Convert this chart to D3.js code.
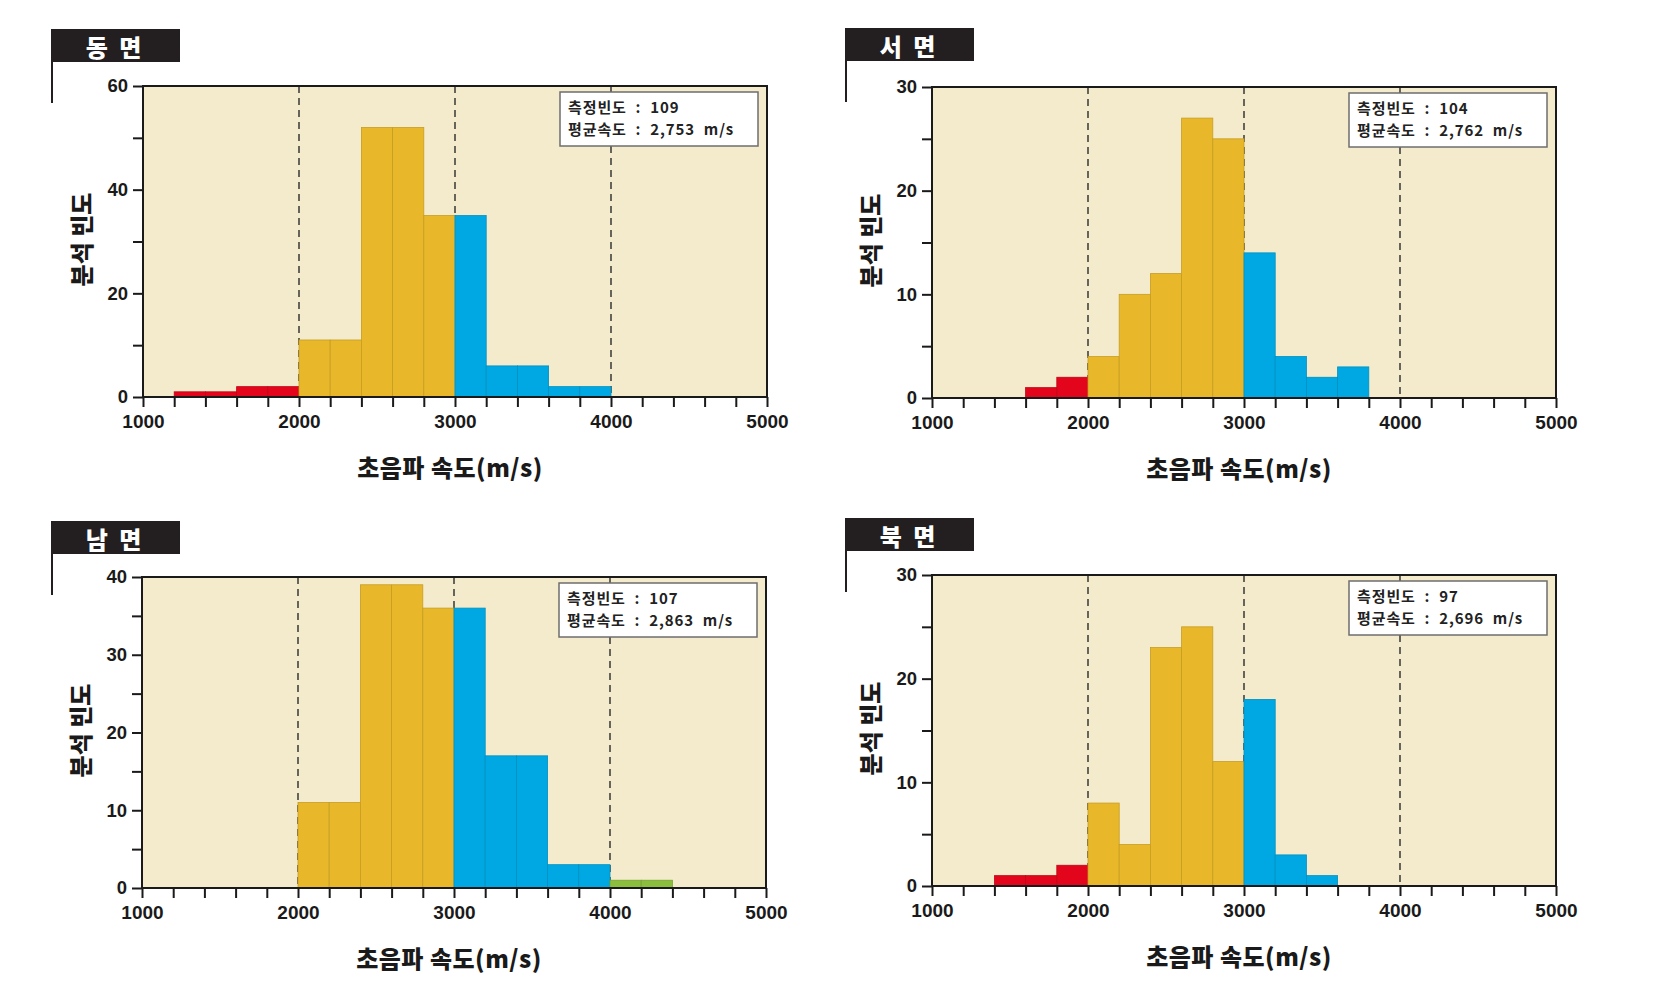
<!DOCTYPE html>
<html>
<head>
<meta charset="utf-8">
<script src="https://cdn.jsdelivr.net/npm/d3@7"></script>
<style>
  html, body { margin: 0; padding: 0; background: #ffffff; }
  svg { display: block; }
</style>
</head>
<body>
<svg id="chart" width="1666" height="982"></svg>
<script>
// ---------- DATA ----------
const binStarts = [1000, 1200, 1400, 1600, 1800, 2000, 2200, 2400, 2600, 2800,
                   3000, 3200, 3400, 3600, 3800, 4000, 4200, 4400, 4600, 4800];
const binWidth = 200;

const panelTitles = ["동 면", "서 면", "남 면", "북 면"];

const countsEast  = [0, 1, 1, 2, 2, 11, 11, 52, 52, 35, 35, 6, 6, 2, 2, 0, 0, 0, 0, 0];
const countsWest  = [0, 0, 0, 1, 2, 4, 10, 12, 27, 25, 14, 4, 2, 3, 0, 0, 0, 0, 0, 0];
const countsSouth = [0, 0, 0, 0, 0, 11, 11, 39, 39, 36, 36, 17, 17, 3, 3, 1, 1, 0, 0, 0];
const countsNorth = [0, 0, 1, 1, 2, 8, 4, 23, 25, 12, 18, 3, 1, 0, 0, 0, 0, 0, 0, 0];

const measureCounts = ["109", "104", "107", "97"];
const meanSpeeds = ["2,753 m/s", "2,762 m/s", "2,863 m/s", "2,696 m/s"];

const yMaxes = [60, 30, 40, 30];
const yMajorSteps = [20, 10, 10, 10];
const yMinorSteps = [10, 5, 5, 5];

const xTickLabels = [1000, 2000, 3000, 4000, 5000];
const gradeBounds = [2000, 3000, 4000];

const xTitle = "초음파 속도(m/s)";
const yTitle = "분석 빈도";
const labelMeasure = "측정빈도";
const labelMean = "평균속도";

// ---------- STYLE / LAYOUT ----------
const allCounts = [countsEast, countsWest, countsSouth, countsNorth];
const plotOrigins = [[143, 86], [932, 87], [142, 577], [932, 575]];
const tagOffsets = [[-92, -57], [-87, -59], [-91, -56], [-87, -57]];
const plotW = 624, plotH = 311;
const gradeColors = ["#e3051b", "#e8b82a", "#00a8e3", "#8cbe3d"];
const plotBg = "#f3ebcb";
const numFont = "'Liberation Sans', Arial, sans-serif";
const krFont = "'Noto Sans CJK KR', 'Noto Sans', sans-serif";

function gradeColor(x) {
  if (x < gradeBounds[0]) return gradeColors[0];
  if (x < gradeBounds[1]) return gradeColors[1];
  if (x < gradeBounds[2]) return gradeColors[2];
  return gradeColors[3];
}

const svg = d3.select("#chart");
svg.append("rect").attr("width", 1666).attr("height", 982).attr("fill", "#fff");

panelTitles.forEach((title, i) => {
  const [ox, oy] = plotOrigins[i];
  const g = svg.append("g").attr("transform", `translate(${ox},${oy})`);
  const counts = allCounts[i];

  const x = d3.scaleLinear().domain([1000, 5000]).range([0, plotW]);
  const y = d3.scaleLinear().domain([0, yMaxes[i]]).range([plotH, 0]);

  // background
  g.append("rect").attr("x", 0).attr("y", 0).attr("width", plotW).attr("height", plotH)
    .attr("fill", plotBg);

  // dashed grade lines (behind bars)
  g.selectAll(".grade").data(gradeBounds).enter().append("line")
    .attr("x1", d => x(d)).attr("x2", d => x(d))
    .attr("y1", 0).attr("y2", plotH)
    .attr("stroke", "#2b2b2b").attr("stroke-width", 1.4)
    .attr("stroke-dasharray", "7,5");

  // bars
  const bins = binStarts.map((b, k) => ({ x0: b, x1: b + binWidth, n: counts[k] }))
    .filter(d => d.n > 0);
  g.selectAll(".bar").data(bins).enter().append("rect")
    .attr("x", d => x(d.x0))
    .attr("width", d => x(d.x1) - x(d.x0))
    .attr("y", d => y(d.n))
    .attr("height", d => y(0) - y(d.n))
    .attr("fill", d => gradeColor(d.x0))
    .attr("stroke", d => d3.color(gradeColor(d.x0)).darker(0.45))
    .attr("stroke-width", 0.8);

  // frame
  g.append("rect").attr("x", 0).attr("y", 0).attr("width", plotW).attr("height", plotH)
    .attr("fill", "none").attr("stroke", "#1a1a1a").attr("stroke-width", 2);

  // y axis
  const yTicks = d3.range(0, yMaxes[i] + 0.001, yMinorSteps[i]);
  const yAxis = d3.axisLeft(y).tickValues(yTicks).tickSize(10).tickPadding(5)
    .tickFormat(d => (d % yMajorSteps[i] === 0 ? d : ""));
  const ya = g.append("g").call(yAxis);
  ya.select(".domain").remove();
  ya.selectAll("line").attr("stroke", "#1a1a1a").attr("stroke-width", 2);
  ya.selectAll("text").attr("font-family", numFont).attr("font-weight", "bold")
    .attr("font-size", 18.5).attr("fill", "#1a1a1a");

  // x axis
  const xTicks = d3.range(1000, 5001, binWidth);
  const xAxis = d3.axisBottom(x).tickValues(xTicks).tickSize(10).tickPadding(8)
    .tickFormat(d => (xTickLabels.includes(d) ? d : ""));
  const xa = g.append("g").attr("transform", `translate(0,${plotH})`).call(xAxis);
  xa.select(".domain").remove();
  xa.selectAll("line").attr("stroke", "#1a1a1a").attr("stroke-width", 2);
  xa.selectAll("text").attr("font-family", numFont).attr("font-weight", "bold")
    .attr("font-size", 19).attr("fill", "#1a1a1a");

  // axis titles
  g.append("text")
    .attr("x", plotW / 2 - 5).attr("y", plotH + 80)
    .attr("text-anchor", "middle")
    .attr("font-family", krFont).attr("font-weight", "900").attr("font-size", 24)
    .attr("letter-spacing", 0.5)
    .attr("fill", "#1a1a1a").text(xTitle);
  g.append("text")
    .attr("transform", `translate(${-63},${plotH / 2 - 2}) rotate(-90)`)
    .attr("text-anchor", "middle").attr("dominant-baseline", "central")
    .attr("font-family", krFont).attr("font-weight", "900").attr("font-size", 24)
    .attr("fill", "#1a1a1a").text(yTitle);

  // info box
  const bx = plotW - 207, by = 6;
  g.append("rect").attr("x", bx).attr("y", by).attr("width", 198).attr("height", 54)
    .attr("fill", "#ffffff").attr("stroke", "#6e6e6e").attr("stroke-width", 1.5);
  const lines = [labelMeasure + " : " + measureCounts[i], labelMean + " : " + meanSpeeds[i]];
  lines.forEach((ln, k) => {
    g.append("text").attr("x", bx + 8).attr("y", by + 21 + k * 22)
      .attr("font-family", krFont).attr("font-weight", "bold").attr("font-size", 15)
      .attr("letter-spacing", 0.9).attr("word-spacing", 4.5)
      .attr("fill", "#222").text(ln);
  });

  // panel title tag
  const [tx, ty] = tagOffsets[i];
  g.append("rect").attr("x", tx).attr("y", ty).attr("width", 129).attr("height", 33)
    .attr("fill", "#231f20");
  g.append("line").attr("x1", tx + 1).attr("x2", tx + 1).attr("y1", ty + 33).attr("y2", ty + 74)
    .attr("stroke", "#231f20").attr("stroke-width", 2);
  g.append("text").attr("x", tx + 64).attr("y", ty + 17)
    .attr("text-anchor", "middle").attr("dominant-baseline", "central")
    .attr("font-family", krFont).attr("font-weight", "900").attr("font-size", 24)
    .attr("letter-spacing", 3)
    .attr("fill", "#ffffff").text(title);
});
</script>
</body>
</html>
